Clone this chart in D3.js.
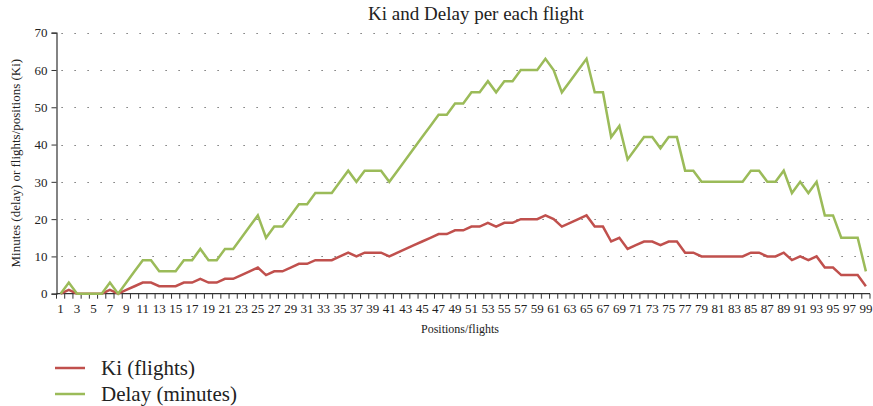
<!DOCTYPE html>
<html lang="en">

<head>
    <title>Ki and Delay per each flight</title>
    <meta charset="utf-8" />
    <script src="https://d3js.org/d3.v7.min.js"></script>
    <style>
        body,
        html {
            margin: 0;
            padding: 0;
            background: #fff;
            overflow: hidden;
        }

        svg text {
            font-family: "Liberation Serif", "Times New Roman", serif !important;
            fill: #222;
        }
    </style>
</head>

<body>
    <div id="chart"></div>
    <script>
        // data
        const positions = d3.range(1, 100);
        const ki = [
            0, 1, 0, 0, 0, 0, 1, 0, 1, 2,
            3, 3, 2, 2, 2, 3, 3, 4, 3, 3,
            4, 4, 5, 6, 7, 5, 6, 6, 7, 8,
            8, 9, 9, 9, 10, 11, 10, 11, 11, 11,
            10, 11, 12, 13, 14, 15, 16, 16, 17, 17,
            18, 18, 19, 18, 19, 19, 20, 20, 20, 21,
            20, 18, 19, 20, 21, 18, 18, 14, 15, 12,
            13, 14, 14, 13, 14, 14, 11, 11, 10, 10,
            10, 10, 10, 10, 11, 11, 10, 10, 11, 9,
            10, 9, 10, 7, 7, 5, 5, 5, 2
        ];
        const delay = [
            0, 3, 0, 0, 0, 0, 3, 0, 3, 6,
            9, 9, 6, 6, 6, 9, 9, 12, 9, 9,
            12, 12, 15, 18, 21, 15, 18, 18, 21, 24,
            24, 27, 27, 27, 30, 33, 30, 33, 33, 33,
            30, 33, 36, 39, 42, 45, 48, 48, 51, 51,
            54, 54, 57, 54, 57, 57, 60, 60, 60, 63,
            60, 54, 57, 60, 63, 54, 54, 42, 45, 36,
            39, 42, 42, 39, 42, 42, 33, 33, 30, 30,
            30, 30, 30, 30, 33, 33, 30, 30, 33, 27,
            30, 27, 30, 21, 21, 15, 15, 15, 6
        ];
        const yTicks = [0, 10, 20, 30, 40, 50, 60, 70];

        const series = [
            { name: "Ki (flights)", values: ki, color: "#c0504d" },
            { name: "Delay (minutes)", values: delay, color: "#9bbb59" }
        ];

        const width = 873, height = 406;
        const plotLeft = 56.5, plotRight = 870, plotTop = 32.7, plotBottom = 293.7;
        const serif = "'Liberation Serif', 'Times New Roman', serif";

        const svg = d3.select("#chart").append("svg")
            .attr("width", width)
            .attr("height", height)
            .attr("font-family", serif);

        const x = d3.scaleBand()
            .domain(positions)
            .range([plotLeft, plotRight]);
        const y = d3.scaleLinear()
            .domain([0, 70])
            .range([plotBottom, plotTop]);

        // dotted grid
        svg.append("g")
            .selectAll("line")
            .data(yTicks.filter(d => d > 0))
            .enter().append("line")
            .attr("x1", plotLeft + 5)
            .attr("x2", plotRight)
            .attr("y1", d => Math.round(y(d)) + 0.5)
            .attr("y2", d => Math.round(y(d)) + 0.5)
            .attr("stroke", "#555")
            .attr("stroke-width", 1)
            .attr("stroke-dasharray", "1.2,11.8");

        // y axis
        const yAxis = svg.append("g")
            .attr("transform", `translate(${plotLeft},0)`)
            .call(d3.axisLeft(y).tickValues(yTicks).tickSize(5).tickPadding(4).tickFormat(d3.format("d")));
        yAxis.attr("font-family", serif);
        yAxis.select(".domain").attr("stroke", "#333").attr("stroke-width", 1.2);
        yAxis.selectAll(".tick line").attr("stroke", "#333");
        yAxis.selectAll("text")
            .attr("font-size", 13)
            .attr("fill", "#222");

        // x axis: ticks between categories, labels on odd positions
        const xg = svg.append("g")
            .attr("transform", `translate(0,${plotBottom})`);
        xg.append("line")
            .attr("x1", plotLeft)
            .attr("x2", plotRight)
            .attr("stroke", "#333")
            .attr("stroke-width", 1.2);
        xg.selectAll(".xtick")
            .data(positions.concat([100]))
            .enter().append("line")
            .attr("class", "xtick")
            .attr("x1", d => d === 100 ? plotRight : x(d))
            .attr("x2", d => d === 100 ? plotRight : x(d))
            .attr("y1", 0)
            .attr("y2", 5)
            .attr("stroke", "#333");
        xg.selectAll(".xlabel")
            .data(positions.filter(d => d % 2 === 1))
            .enter().append("text")
            .attr("class", "xlabel")
            .attr("x", d => x(d) + x.bandwidth() / 2)
            .attr("y", 19)
            .attr("text-anchor", "middle")
            .attr("font-size", 13)
            .text(d => d);

        // lines
        const line = d3.line()
            .x((d, i) => x(positions[i]) + x.bandwidth() / 2)
            .y(d => y(d));
        svg.append("g")
            .selectAll("path")
            .data(series)
            .enter().append("path")
            .attr("d", d => line(d.values))
            .attr("fill", "none")
            .attr("stroke", d => d.color)
            .attr("stroke-width", 2.5)
            .attr("stroke-linejoin", "miter");

        // titles
        svg.append("text")
            .attr("x", 476)
            .attr("y", 20)
            .attr("text-anchor", "middle")
            .attr("font-size", 19)
            .text("Ki and Delay per each flight");
        svg.append("text")
            .attr("x", 460)
            .attr("y", 333)
            .attr("text-anchor", "middle")
            .attr("font-size", 12)
            .text("Positions/flights");
        svg.append("text")
            .attr("transform", `translate(20,${(plotTop + plotBottom) / 2}) rotate(-90)`)
            .attr("text-anchor", "middle")
            .attr("font-size", 13)
            .text("Minutes (delay) or flights/positions (Ki)");

        // legend
        const legend = svg.append("g")
            .selectAll("g")
            .data(series)
            .enter().append("g")
            .attr("transform", (d, i) => `translate(55,${368 + i * 26})`);
        legend.append("line")
            .attr("x1", 0)
            .attr("x2", 30)
            .attr("stroke", d => d.color)
            .attr("stroke-width", 2.5);
        legend.append("text")
            .attr("x", 46)
            .attr("y", 6.5)
            .attr("font-size", 21)
            .text(d => d.name);
    </script>
</body>

</html>
